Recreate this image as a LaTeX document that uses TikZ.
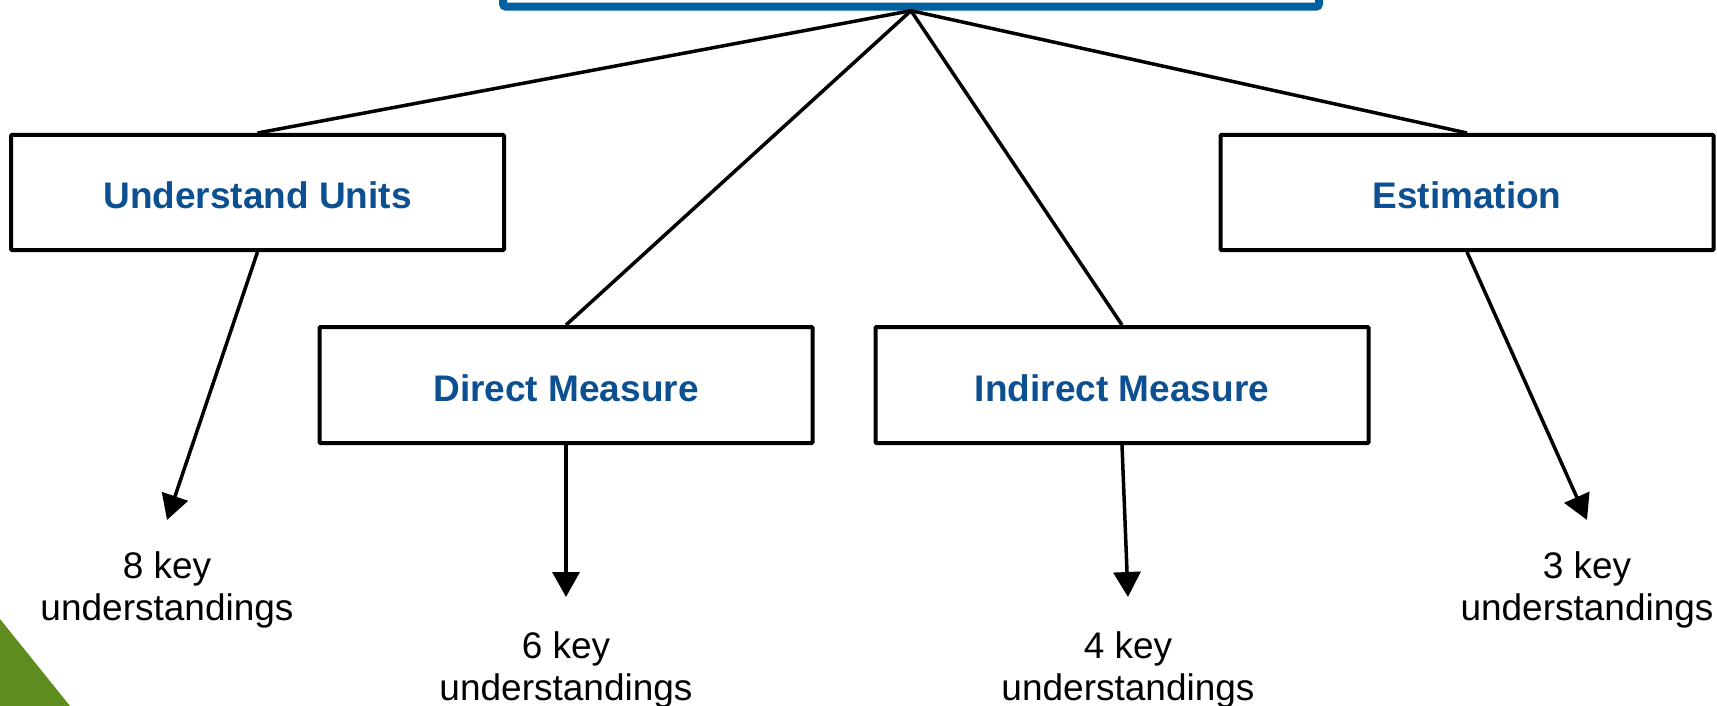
\documentclass[tikz,border=0pt]{standalone}
\usepackage{fontspec}
\setmainfont{Liberation Sans}
\usetikzlibrary{arrows.meta}
\definecolor{hdrblue}{RGB}{0,96,160}
\definecolor{labelblue}{RGB}{12,80,145}
\definecolor{leafgreen}{RGB}{95,140,30}
\begin{document}
\begin{tikzpicture}[x=1pt,y=-1pt,
  topicbox/.style={draw=black, line width=4pt, fill=white, rounded corners=1pt,
    minimum width=493pt, minimum height=115pt, inner sep=0pt,
    text height=32pt, text depth=0pt,
    font=\fontsize{37}{42}\selectfont\bfseries, text=labelblue},
  link/.style={line width=3.5pt, black},
  pointer/.style={line width=3.5pt, black, -{Triangle[length=25pt,width=27pt]}},
  count/.style={align=center, anchor=base, inner sep=0pt,
    font=\fontsize{37}{42}\selectfont}]
  \useasboundingbox (0,0) rectangle (1717,706);

  % corner decoration
  \fill[leafgreen] (0,619) -- (70,706) -- (0,706) -- cycle;

  % heading box, mostly above the visible area
  \begin{scope}
    \clip (0,0) rectangle (1717,706);
    \node[draw=hdrblue, line width=8pt, rounded corners=3pt, fill=white,
      minimum width=816pt, minimum height=60pt, inner sep=0pt] (root) at (911,-23.3) {};
  \end{scope}

  % topic boxes
  \node[topicbox] (uu)  at (257.5,192.5) {Understand Units};
  \node[topicbox] (est) at (1467,192.5)  {Estimation};
  \node[topicbox, minimum height=116pt] (dm) at (566,385)  {Direct Measure};
  \node[topicbox, minimum height=116pt] (im) at (1122,385) {Indirect Measure};

  % branches from the heading
  \draw[link] (root.south) -- (uu.north);
  \draw[link] (root.south) -- (dm.north);
  \draw[link] (root.south) -- (im.north);
  \draw[link] (root.south) -- (est.north);

  % arrow ends
  \coordinate (t8) at (167,520);
  \coordinate (t6) at (566,597);
  \coordinate (t4) at (1128,597);
  \coordinate (t3) at (1587,520);
  \draw[pointer] (uu.south) -- (t8);
  \draw[pointer] (dm.south) -- (t6);
  \draw[pointer] (im.south) -- (t4);
  \draw[pointer] (est.south) -- (t3);

  % counts (anchored on the baseline of the second line)
  \node[count] (k8) at (167,620)  {8 key\\understandings};
  \node[count] (k6) at (566,700)  {6 key\\understandings};
  \node[count] (k4) at (1128,700) {4 key\\understandings};
  \node[count] (k3) at (1587,620) {3 key\\understandings};
\end{tikzpicture}
\end{document}
